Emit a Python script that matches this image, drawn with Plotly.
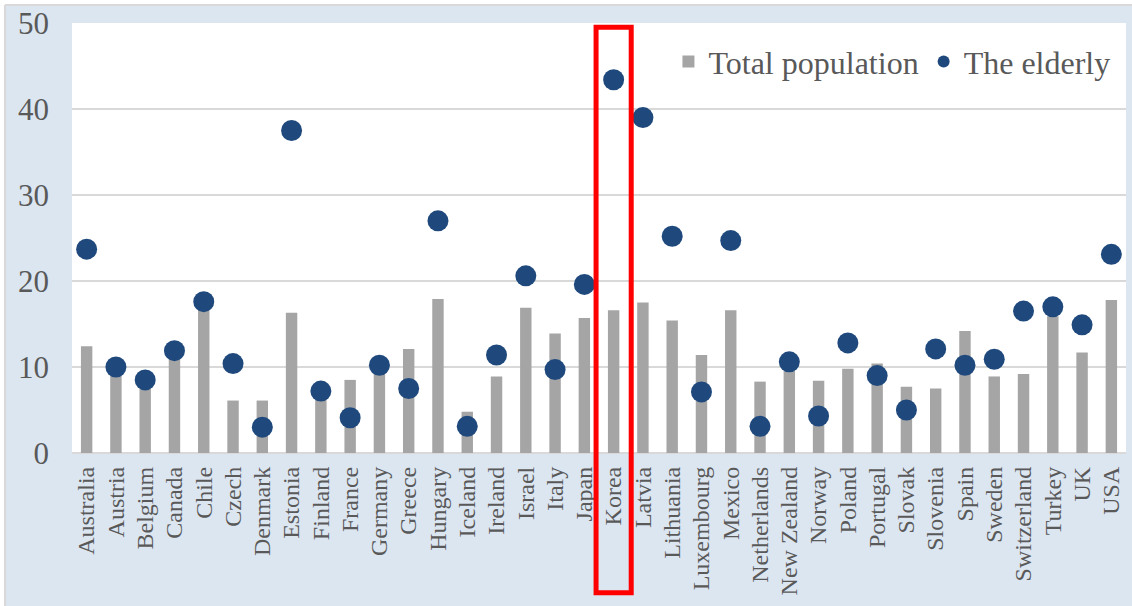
import plotly.graph_objects as go

countries = ["Australia", "Austria", "Belgium", "Canada", "Chile", "Czech", "Denmark",
             "Estonia", "Finland", "France", "Germany", "Greece", "Hungary", "Iceland",
             "Ireland", "Israel", "Italy", "Japan", "Korea", "Latvia", "Lithuania",
             "Luxembourg", "Mexico", "Netherlands", "New Zealand", "Norway", "Poland",
             "Portugal", "Slovak", "Slovenia", "Spain", "Sweden", "Switzerland",
             "Turkey", "UK", "USA"]

total_population = [12.4, 9.6, 8.0, 11.1, 16.9, 6.1, 6.1,
                    16.3, 6.8, 8.5, 9.5, 12.1, 17.9, 4.8,
                    8.9, 16.9, 13.9, 15.7, 16.6, 17.5, 15.4,
                    11.4, 16.6, 8.3, 10.0, 8.4, 9.8,
                    10.4, 7.7, 7.5, 14.2, 8.9, 9.2,
                    15.9, 11.7, 17.8]

elderly = [23.7, 10.0, 8.5, 11.9, 17.6, 10.4, 3.0,
           37.5, 7.2, 4.1, 10.2, 7.5, 27.0, 3.1,
           11.4, 20.6, 9.7, 19.6, 43.4, 39.0, 25.2,
           7.1, 24.7, 3.1, 10.6, 4.3, 12.8,
           9.0, 5.0, 12.1, 10.2, 10.9, 16.5,
           17.0, 14.9, 23.1]

y_ticks = [0, 10, 20, 30, 40, 50]
highlight = "Korea"

TEXT = "#595959"
GRID = "#D9D9D9"
SERIF = "Liberation Serif, Times New Roman, serif"

fig = go.Figure()
fig.add_trace(go.Bar(
    x=countries, y=total_population, name="Total population",
    marker=dict(color="#A5A5A5", line=dict(width=0)),
))
fig.add_trace(go.Scatter(
    x=countries, y=elderly, name="The elderly", mode="markers",
    marker=dict(color="#1F497D", size=21, line=dict(width=0)),
))

# frame around the highlighted country, from the top of the plot down through its label
k = countries.index(highlight)
fig.add_shape(type="rect", xref="x", yref="paper",
              x0=k - 0.6, x1=k + 0.6, y0=-0.325, y1=0.99,
              line=dict(color="#FF0000", width=5), fillcolor="rgba(0,0,0,0)",
              layer="above")

# white margin strip with a thin grey edge along the left and top of the chart panel
fig.add_shape(type="rect", xref="paper", yref="paper",
              x0=-0.075, x1=-0.0636, y0=-0.4, y1=1.1,
              fillcolor="white", line=dict(width=0), layer="above")
fig.add_shape(type="rect", xref="paper", yref="paper",
              x0=-0.075, x1=1.1, y0=1.042, y1=1.1,
              fillcolor="white", line=dict(width=0), layer="above")
fig.add_shape(type="line", xref="paper", yref="paper",
              x0=-0.0636, x1=-0.0636, y0=-0.4, y1=1.042,
              line=dict(color=GRID, width=2), layer="above")
fig.add_shape(type="line", xref="paper", yref="paper",
              x0=-0.0636, x1=1.1, y0=1.042, y1=1.042,
              line=dict(color=GRID, width=2), layer="above")

fig.update_layout(
    width=1132, height=606,
    margin=dict(l=72, r=6, t=23, b=153),
    paper_bgcolor="#DCE6F1",
    plot_bgcolor="white",
    bargap=0.61,
    showlegend=True,
    legend=dict(
        orientation="h", x=0.99, xanchor="right", y=0.91, yanchor="middle",
        bgcolor="rgba(0,0,0,0)", font=dict(family=SERIF, size=32, color=TEXT),
        itemsizing="constant",
    ),
    xaxis=dict(
        type="category", range=[-0.5, len(countries) - 0.5],
        tickmode="array", tickvals=countries, ticktext=countries,
        tickangle=-90, tickfont=dict(family=SERIF, size=24, color=TEXT),
        showgrid=False, ticks="", ticklabelstandoff=8,
        showline=False, zeroline=False,
    ),
    yaxis=dict(
        range=[0, 50], tickvals=y_ticks,
        tickfont=dict(family=SERIF, size=31, color=TEXT),
        showgrid=True, gridcolor=GRID, gridwidth=1.5,
        zeroline=True, zerolinecolor=GRID, zerolinewidth=1.5,
        ticks="", ticklabelstandoff=22, showline=False,
    ),
)

fig.write_html("out.html")
